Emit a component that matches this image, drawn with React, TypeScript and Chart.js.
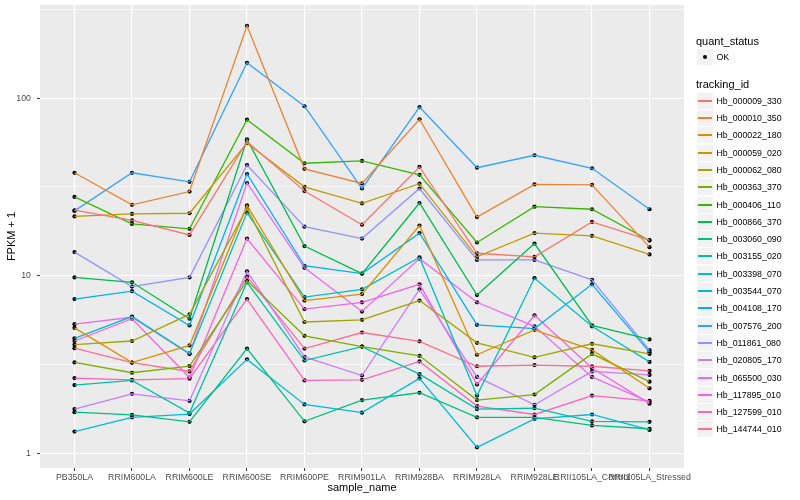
import React, { useEffect, useRef } from "react";
import { Chart, registerables } from "chart.js";

Chart.register(...registerables);

const categories = [
  "PB350LA",
  "RRIM600LA",
  "RRIM600LE",
  "RRIM600SE",
  "RRIM600PE",
  "RRIM901LA",
  "RRIM928BA",
  "RRIM928LA",
  "RRIM928LE",
  "RRII105LA_Control",
  "RRII105LA_Stressed",
];

const trackingIds = [
  "Hb_000009_330",
  "Hb_000010_350",
  "Hb_000022_180",
  "Hb_000059_020",
  "Hb_000062_080",
  "Hb_000363_370",
  "Hb_000406_110",
  "Hb_000866_370",
  "Hb_003060_090",
  "Hb_003155_020",
  "Hb_003398_070",
  "Hb_003544_070",
  "Hb_004108_170",
  "Hb_007576_200",
  "Hb_011861_080",
  "Hb_020805_170",
  "Hb_065500_030",
  "Hb_117895_010",
  "Hb_127599_010",
  "Hb_144744_010",
];

const seriesColors = [
  "#F8766D", "#EA8331", "#D89000", "#C09B00", "#A3A500",
  "#7CAE00", "#39B600", "#00BB4E", "#00BF7D", "#00C1A3",
  "#00BFC4", "#00BAE0", "#00B0F6", "#35A2FF", "#9590FF",
  "#C77CFF", "#E76BF3", "#FA62DB", "#FF62BC", "#FF6C91",
];

// FPKM + 1 values, one array per tracking_id (order = categories)
const hb000009_330 = [23.4, 20.5, 17.0, 56.9, 30.0, 19.4, 41.0, 13.4, 12.8, 20.1, 15.9];
const hb000010_350 = [38.0, 25.1, 29.8, 255, 40.0, 33.1, 76, 21.4, 32.7, 32.5, 14.5];
const hb000022_180 = [5.1, 3.25, 4.06, 24.9, 7.26, 7.9, 19.2, 3.6, 4.97, 3.83, 2.33];
const hb000059_020 = [21.6, 22.3, 22.5, 55.8, 31.7, 25.6, 33.0, 12.8, 17.4, 16.8, 13.2];
const hb000062_080 = [4.1, 4.3, 6.07, 24.0, 5.5, 5.66, 7.26, 4.2, 3.48, 4.15, 3.64];
const hb000363_370 = [3.26, 2.85, 3.11, 9.4, 4.6, 4.0, 3.55, 2.0, 2.15, 3.64, 2.54];
const hb000406_110 = [27.8, 19.6, 18.4, 75.6, 43, 44.3, 37, 15.4, 24.5, 23.7, 15.8];
const hb000866_370 = [9.8, 9.2, 5.74, 58.6, 14.7, 10.3, 25.7, 7.8, 15.2, 5.26, 4.39];
const hb003060_090 = [1.71, 1.65, 1.51, 3.9, 1.52, 2.0, 2.2, 1.6, 1.6, 1.44, 1.38];
const hb003155_020 = [2.43, 2.58, 1.69, 9.2, 3.34, 4.0, 2.8, 1.78, 1.8, 1.52, 1.51];
const hb003398_070 = [4.45, 5.9, 3.66, 22.7, 7.6, 8.4, 12.7, 2.12, 9.7, 5.2, 3.28];
const hb003544_070 = [1.33, 1.6, 1.67, 3.39, 1.89, 1.7, 2.65, 1.085, 1.57, 1.66, 1.36];
const hb004108_170 = [7.4, 8.2, 5.26, 37.4, 11.4, 10.3, 17.4, 5.3, 5.05, 8.96, 3.72];
const hb007576_200 = [23.2, 38.0, 33.8, 158, 90, 31.0, 89, 40.6, 47.7, 40.3, 23.7];
const hb011861_080 = [13.6, 8.7, 9.8, 42, 18.9, 16.2, 31, 12.3, 12.3, 9.5, 3.82];
const hb020805_170 = [1.78, 2.17, 1.98, 10.6, 3.5, 2.75, 8.4, 2.7, 1.88, 2.9, 2.77];
const hb065500_030 = [5.35, 5.85, 3.63, 33.3, 11.1, 6.3, 12.5, 7.1, 5.2, 2.7, 1.95];
const hb117895_010 = [4.3, 5.74, 2.68, 16.2, 6.5, 7.1, 8.96, 2.45, 6.0, 3.03, 1.91];
const hb127599_010 = [2.66, 2.6, 2.64, 7.4, 2.58, 2.6, 3.3, 1.85, 1.66, 2.12, 1.98];
const hb144744_010 = [3.92, 3.25, 2.9, 9.9, 3.9, 4.8, 4.28, 3.1, 3.15, 3.1, 2.92];

const seriesValues = [
  hb000009_330, hb000010_350, hb000022_180, hb000059_020, hb000062_080,
  hb000363_370, hb000406_110, hb000866_370, hb003060_090, hb003155_020,
  hb003398_070, hb003544_070, hb004108_170, hb007576_200, hb011861_080,
  hb020805_170, hb065500_030, hb117895_010, hb127599_010, hb144744_010,
];

const yMajorTicks = [1, 10, 100];
const yMinorTicks = [3.1623, 31.623, 316.23];
const quantStatus = ["OK"];

const FONT = "'Liberation Sans', Arial, Helvetica, sans-serif";

const isMajorY = (v: number) => yMajorTicks.some((m) => Math.abs(m - v) < 1e-6);

const panelBg = {
  id: "panelBg",
  beforeDraw(chart: any) {
    const { ctx, chartArea } = chart;
    ctx.save();
    ctx.fillStyle = "#EBEBEB";
    ctx.fillRect(chartArea.left, chartArea.top, chartArea.right - chartArea.left, chartArea.bottom - chartArea.top);
    ctx.restore();
  },
};

export default function App() {
  const canvasRef = useRef<HTMLCanvasElement | null>(null);

  useEffect(() => {
    document.body.style.margin = "0";
    const canvas = canvasRef.current;
    if (!canvas) return;

    const toPoints = (vals: number[]) => vals.map((v, j) => ({ x: j, y: v }));

    const lineSets = seriesValues.map((vals, i) => ({
      label: trackingIds[i],
      data: toPoints(vals),
      borderColor: seriesColors[i],
      backgroundColor: seriesColors[i],
      borderWidth: 1.3,
      pointRadius: 0,
      tension: 0,
      fill: false,
    }));
    const pointSets = seriesValues.map((vals, i) => ({
      label: trackingIds[i] + " " + quantStatus[0],
      data: toPoints(vals),
      showLine: false,
      pointRadius: 2.1,
      pointBackgroundColor: "#000000",
      pointBorderColor: "#000000",
      pointBorderWidth: 0,
      borderColor: "#000000",
    }));

    const chart = new Chart(canvas, {
      type: "line",
      data: { datasets: [...lineSets, ...pointSets] as any },
      plugins: [panelBg],
      options: {
        animation: false,
        responsive: false,
        devicePixelRatio: 1,
        layout: { padding: { left: 0, right: 116, top: 5, bottom: 0 } },
        plugins: { legend: { display: false }, tooltip: { enabled: false } },
        scales: {
          x: {
            type: "linear",
            min: -0.6,
            max: categories.length - 1 + 0.6,
            afterBuildTicks: (scale: any) => {
              scale.ticks = categories.map((_, i) => ({ value: i }));
            },
            afterFit: (scale: any) => {
              scale.height = 32;
              scale.paddingLeft = 0;
              scale.paddingRight = 0;
            },
            border: { display: false },
            grid: {
              color: "#FFFFFF",
              lineWidth: 1.1,
              drawTicks: true,
              tickLength: 3,
              tickColor: "#333333",
              tickWidth: 1,
            },
            ticks: {
              autoSkip: false,
              maxRotation: 0,
              minRotation: 0,
              padding: 1.5,
              color: "#4D4D4D",
              font: { family: FONT, size: 8.8 },
              callback: (v: any) => categories[Math.round(Number(v))] ?? "",
            },
            title: {
              display: true,
              text: "sample_name",
              color: "#000000",
              font: { family: FONT, size: 11 },
              padding: { top: 0, bottom: 5 },
            },
          },
          y: {
            type: "logarithmic",
            min: 0.83,
            max: 334,
            afterBuildTicks: (scale: any) => {
              scale.ticks = [...yMajorTicks, ...yMinorTicks]
                .sort((a, b) => a - b)
                .map((v) => ({ value: v, major: isMajorY(v) }));
            },
            afterFit: (scale: any) => {
              scale.width = 40;
              scale.paddingTop = 0;
              scale.paddingBottom = 0;
            },
            border: { display: false },
            grid: {
              color: "#FFFFFF",
              lineWidth: (ctx: any) => (ctx.tick && isMajorY(ctx.tick.value) ? 1.1 : 0.55),
              drawTicks: true,
              tickLength: 3,
              tickColor: (ctx: any) => (ctx.tick && isMajorY(ctx.tick.value) ? "#333333" : "rgba(0,0,0,0)"),
              tickWidth: 1,
            },
            ticks: {
              padding: 6,
              color: "#4D4D4D",
              font: { family: FONT, size: 8.8 },
              callback: (v: any) => (isMajorY(Number(v)) ? String(Math.round(Number(v))) : ""),
            },
            title: {
              display: true,
              text: "FPKM + 1",
              color: "#000000",
              font: { family: FONT, size: 11 },
              padding: { top: 5.4, bottom: 0 },
            },
          },
        },
      } as any,
    });

    return () => chart.destroy();
  }, []);

  const legendLeft = 697;
  const textLeft = 716.5;
  const firstY = 100.7;
  const step = 17.3;

  return (
    <div style={{ position: "fixed", left: 0, top: 0, width: 800, height: 500, background: "#FFFFFF", fontFamily: FONT }}>
      <canvas ref={canvasRef} width={800} height={500} style={{ position: "absolute", left: 0, top: 0, width: 800, height: 500 }} />
      <div style={{ position: "absolute", left: 696, top: 40.7 - 7, fontSize: 11, lineHeight: "14px", color: "#000", whiteSpace: "nowrap" }}>
        quant_status
      </div>
      {quantStatus.map((q, i) => (
        <React.Fragment key={q}>
          <div style={{ position: "absolute", left: legendLeft, top: 49 + i * step, width: 16, height: 16, background: "#F2F2F2" }} />
          <div style={{ position: "absolute", left: legendLeft + 6, top: 55 + i * step, width: 4, height: 4, borderRadius: 2, background: "#000" }} />
          <div style={{ position: "absolute", left: textLeft, top: 51 + i * step, fontSize: 8.8, lineHeight: "12px", color: "#000", whiteSpace: "nowrap" }}>
            {q}
          </div>
        </React.Fragment>
      ))}
      <div style={{ position: "absolute", left: 696, top: 84 - 7, fontSize: 11, lineHeight: "14px", color: "#000", whiteSpace: "nowrap" }}>
        tracking_id
      </div>
      {trackingIds.map((id, i) => {
        const cy = Math.round(firstY + i * step);
        return (
          <React.Fragment key={id}>
            <div style={{ position: "absolute", left: legendLeft, top: cy - 8, width: 16, height: 16, background: "#F2F2F2" }} />
            <div style={{ position: "absolute", left: legendLeft + 1, top: cy - 0.75, width: 14, height: 1.5, background: seriesColors[i] }} />
            <div style={{ position: "absolute", left: textLeft, top: cy - 6, fontSize: 8.8, lineHeight: "12px", color: "#000", whiteSpace: "nowrap" }}>
              {id}
            </div>
          </React.Fragment>
        );
      })}
    </div>
  );
}
